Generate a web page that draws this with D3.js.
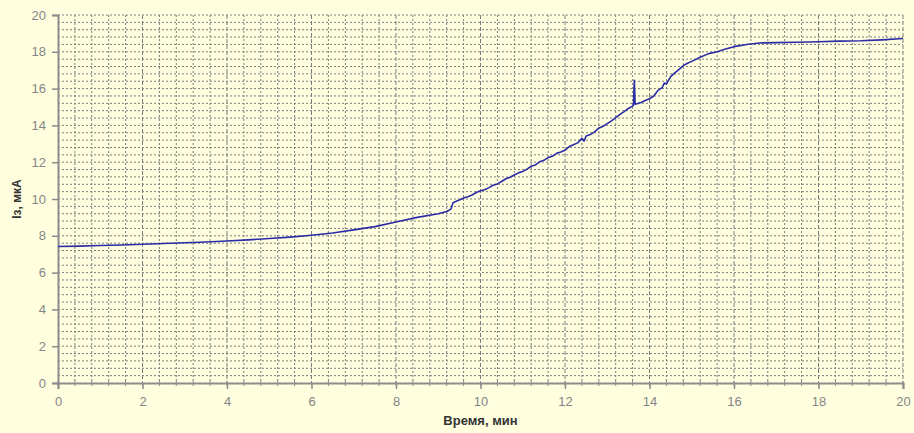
<!DOCTYPE html>
<html>
<head>
<meta charset="utf-8">
<script src="https://cdn.jsdelivr.net/npm/d3@7"></script>
<style>
	body { margin: 0; background: #ffffe0; }
	svg { display: block; font-family: "Liberation Sans", Arial, sans-serif; }
</style>
</head>
<body>
<svg id="chart" width="914" height="433"></svg>
<script>
// time, min
const time_min = [0, 0.5, 1, 1.5, 2, 2.5, 3, 3.5, 4, 4.5, 5, 5.5, 6, 6.5, 7, 7.5, 8, 8.5, 9, 9.2, 9.3, 9.35, 9.4, 9.5, 9.6, 9.7, 9.8, 9.9,
	10, 10.1, 10.2, 10.3, 10.4, 10.5, 10.6, 10.7, 10.8, 10.9, 11, 11.1, 11.2, 11.3, 11.4, 11.5, 11.6, 11.7, 11.8, 11.9,
	12, 12.1, 12.2, 12.3, 12.4, 12.45, 12.5, 12.6, 12.7, 12.8, 12.9, 13, 13.1, 13.2, 13.3, 13.4, 13.5, 13.6, 13.62, 13.64, 13.66, 13.8, 13.9,
	14, 14.1, 14.2, 14.3, 14.35, 14.4, 14.5, 14.6, 14.7, 14.8, 14.9, 15, 15.2, 15.4, 15.6, 15.8, 16, 16.3, 16.6, 17, 17.5, 18, 18.5, 19, 19.5, 20];
// current, мкА
const current_ua = [7.42, 7.44, 7.47, 7.5, 7.54, 7.58, 7.62, 7.66, 7.72, 7.78, 7.85, 7.93, 8.03, 8.15, 8.32, 8.5, 8.75, 9.0, 9.2, 9.32, 9.45, 9.8, 9.85, 9.95, 10.05, 10.12, 10.22, 10.35,
	10.45, 10.5, 10.62, 10.75, 10.82, 10.95, 11.1, 11.18, 11.3, 11.42, 11.5, 11.62, 11.78, 11.85, 12.02, 12.1, 12.25, 12.32, 12.48, 12.55,
	12.65, 12.85, 12.95, 13.05, 13.3, 13.15, 13.42, 13.5, 13.65, 13.85, 13.95, 14.1, 14.25, 14.42, 14.6, 14.75, 14.92, 15.05, 15.1, 16.45, 15.15, 15.25, 15.35,
	15.45, 15.6, 15.9, 16.05, 16.3, 16.25, 16.65, 16.85, 17.05, 17.25, 17.38, 17.48, 17.7, 17.9, 18.0, 18.15, 18.28, 18.4, 18.48, 18.5, 18.52, 18.55, 18.58, 18.6, 18.65, 18.72];

const x_ticks = [0, 2, 4, 6, 8, 10, 12, 14, 16, 18, 20];
const y_ticks = [0, 2, 4, 6, 8, 10, 12, 14, 16, 18, 20];

const plot_left = 58, plot_right = 903, plot_top = 15, plot_bottom = 383;

const svg = d3.select('#chart');

const x = d3.scaleLinear().domain([0, 20]).range([plot_left, plot_right]);
const y = d3.scaleLinear().domain([0, 20]).range([plot_bottom, plot_top]);

// minor grid every 0.4
const minor = d3.range(0, 50).map(i => +(i * 0.4).toFixed(1));
minor.push(20);

let grid = svg.append('g');

grid.selectAll('.vgrid')
	.data(minor.filter(d => d > 0))
	.enter().append('line')
	.attr('x1', d => x(d)).attr('x2', d => x(d))
	.attr('y1', plot_top).attr('y2', plot_bottom)
	.attr('stroke', '#7c7c7c')
	.attr('stroke-width', 1)
	.attr('stroke-dasharray', d => (d % 2 == 0) ? '4,2' : '2,2');

grid.selectAll('.hgrid')
	.data(minor.filter(d => d > 0))
	.enter().append('line')
	.attr('x1', plot_left).attr('x2', plot_right)
	.attr('y1', d => y(d)).attr('y2', d => y(d))
	.attr('stroke', '#7c7c7c')
	.attr('stroke-width', 1)
	.attr('stroke-dasharray', '2,2');

// axes
const x_axis = d3.axisBottom(x).tickValues(x_ticks).tickSize(6).tickPadding(8);
const y_axis = d3.axisLeft(y).tickValues(y_ticks).tickSize(6).tickPadding(6);

let gx = svg.append('g').attr('transform', 'translate(0,' + plot_bottom + ')').call(x_axis);
let gy = svg.append('g').attr('transform', 'translate(' + plot_left + ',0)').call(y_axis);

[gx, gy].forEach(function (g) {
	g.select('.domain').attr('stroke', '#8c8c8c').attr('stroke-width', 2);
	g.selectAll('.tick line').attr('stroke', '#8c8c8c').attr('stroke-width', 1.5);
	g.selectAll('.tick text')
		.attr('fill', '#858585')
		.style('font-size', '13px');
});

// minor ticks on the x axis
svg.append('g').selectAll('line')
	.data(minor)
	.enter().append('line')
	.attr('x1', d => x(d)).attr('x2', d => x(d))
	.attr('y1', plot_bottom - 2).attr('y2', plot_bottom + 3)
	.attr('stroke', '#8c8c8c');

// the curve
const points = time_min.map((t, i) => [t, current_ua[i]]);

svg.append('path')
	.datum(points)
	.attr('fill', 'none')
	.attr('stroke', '#2b2ba6')
	.attr('stroke-width', 1.6)
	.attr('stroke-linejoin', 'round')
	.attr('d', d3.line().x(d => x(d[0])).y(d => y(d[1])));

// axis titles
svg.append('text')
	.attr('x', (plot_left + plot_right) / 2)
	.attr('y', 425)
	.attr('text-anchor', 'middle')
	.attr('fill', '#333')
	.style('font-size', '13px')
	.style('font-weight', 'bold')
	.text('Время, мин');

svg.append('text')
	.attr('transform', 'translate(21,' + ((plot_top + plot_bottom) / 2) + ') rotate(-90)')
	.attr('text-anchor', 'middle')
	.attr('fill', '#333')
	.style('font-size', '12px')
	.style('font-weight', 'bold')
	.text('Iз, мкА');
</script>
</body>
</html>
